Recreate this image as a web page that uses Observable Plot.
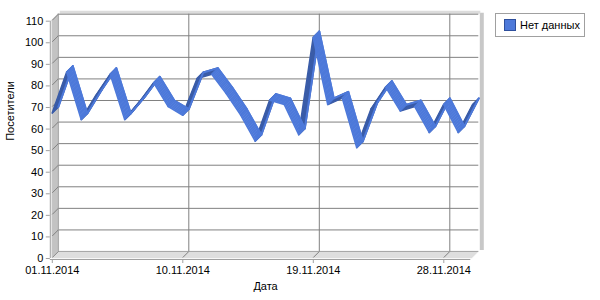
<!DOCTYPE html>
<html>
<head>
<meta charset="utf-8">
<script src="https://cdn.jsdelivr.net/npm/d3@7"></script>
<script src="https://cdn.jsdelivr.net/npm/@observablehq/plot@0.6"></script>
<style>
  html, body { margin: 0; padding: 0; background: #fff; }
  #wrap { position: relative; width: 600px; height: 300px; font-family: "Liberation Sans", Arial, sans-serif; }
  #legend { position: absolute; left: 495px; top: 13px; width: 90px; height: 24px; border: 1px solid #a0a0a0; background: #fff; box-sizing: border-box; font-size: 11px; display: flex; align-items: center; }
  #legend .sw { width: 12px; height: 12px; background: #4d79da; border: 1px solid #2e4f9c; margin-left: 8px; margin-right: 4px; box-sizing: border-box; }
</style>
</head>
<body>
<div id="wrap">
  <div id="chart"></div>
  <div id="legend"><div class="sw"></div><span id="legtxt"></span></div>
</div>
<script>
const days = [1,2,3,4,5,6,7,8,9,10,11,12,13,14,15,16,17,18,19,20,21,22,23,24,25,26,27,28,29,30];
const visitors = [67,86,64,75,85,64,72,81,70,66,83,85,76,66,54,73,71,57,102,71,74,51,69,79,68,70,58,71,58,71];
const tickDays = [1,10,19,28];
const tickLabels = ["01.11.2014","10.11.2014","19.11.2014","28.11.2014"];
const yTicks = [0,10,20,30,40,50,60,70,80,90,100,110];
const seriesName = "Нет данных";
const xTitle = "Дата";
const yTitle = "Посетители";

document.getElementById("legtxt").textContent = seriesName;

const segs = days.slice(0, -1).map((d, i) => ({
  x1: d, y1: visitors[i], x2: days[i + 1], y2: visitors[i + 1], up: visitors[i + 1] > visitors[i]
}));
const depth = [0,1,2,3,4,5,6];
const DX = 6 / 14.5, DY = 6 / 2.156; // depth expressed in data units

const LIGHT = "#4d79da", DARK = "#3a5ca8";
const sweep = (data, opts, color) => depth.map(i => Plot.link(data, {...opts, dx: -i, dy: i, stroke: color, strokeWidth: 1.8, strokeLinecap: "round"}));

const marks = [
  // left wall
  ...depth.map(i => Plot.ruleX([1], {y1: 0, y2: 110, dx: -i, dy: i, stroke: "#c4c4c4", strokeWidth: 1.5})),
  // floor
  ...depth.map(i => Plot.ruleY([0], {x1: 1, x2: 30, dx: -i, dy: i, stroke: "#dedede", strokeWidth: 1.5})),
  // wall thickness right and top
  Plot.ruleX([30], {y1: 0, y2: 110, dx: 3, dy: -1, stroke: "#c8c8c8", strokeWidth: 4}),
  Plot.ruleY([110], {x1: 1, x2: 30, dx: 2, dy: -2, stroke: "#dcdcdc", strokeWidth: 3}),
  // grid on back wall
  Plot.ruleY(yTicks.slice(1), {x1: 1, x2: 30, stroke: "#808080"}),
  Plot.ruleX(tickDays.slice(1), {y1: 0, y2: 110, stroke: "#808080"}),
  Plot.ruleX([1], {y1: 0, y2: 110, stroke: "#a8a8a8"}),
  Plot.ruleY([0], {x1: 1, x2: 30, stroke: "#a8a8a8"}),
  // grid across left wall and floor
  Plot.link(yTicks, {x1: 1 - DX, y1: d => d - DY, x2: 1, y2: d => d, stroke: "#808080"}),
  Plot.link(tickDays.slice(1), {x1: d => d - DX, y1: -DY, x2: d => d, y2: 0, stroke: "#808080"}),
  // ribbon
  ...sweep(segs.filter(s => s.up), {x1: "x1", y1: "y1", x2: "x2", y2: "y2"}, DARK),
  ...sweep(segs.filter(s => !s.up), {x1: "x1", y1: "y1", x2: "x2", y2: "y2"}, LIGHT),
  Plot.line(days, {x: d => d, y: (d, i) => visitors[i], stroke: LIGHT, strokeWidth: 2}),
  // front axis lines
  Plot.ruleX([1], {y1: 0, y2: 110, dx: -8, dy: 7, stroke: "#a0a0a0"}),
  Plot.ruleY([0], {x1: 1, x2: 30, dx: -8, dy: 8, stroke: "#a0a0a0"}),
  Plot.axisY(yTicks, {tickSize: 4, tickPadding: 3, dx: -8, dy: 7, stroke: "#a0a0a0", fill: "#000", label: null}),
  Plot.axisX(tickDays, {tickSize: 4, tickPadding: 3, dx: -6, dy: 8, stroke: "#a0a0a0", fill: "#000", label: null,
    tickFormat: d => tickLabels[tickDays.indexOf(d)]}),
  Plot.text([xTitle], {frameAnchor: "bottom", dx: -3, dy: 38, fill: "#000"}),
  Plot.text([yTitle], {frameAnchor: "left", dx: -48, dy: 8, rotate: -90, fill: "#000"})
];

const chart = Plot.plot({
  width: 600,
  height: 300,
  marginLeft: 57.8,
  marginRight: 121.7,
  marginTop: 13.7,
  marginBottom: 49,
  x: {domain: [1, 30], axis: null},
  y: {domain: [0, 110], axis: null},
  style: {fontFamily: "'Liberation Sans', Arial, sans-serif", fontSize: "11px", color: "#000", background: "#fff", overflow: "visible"},
  marks
});
document.getElementById("chart").appendChild(chart);
</script>
</body>
</html>
